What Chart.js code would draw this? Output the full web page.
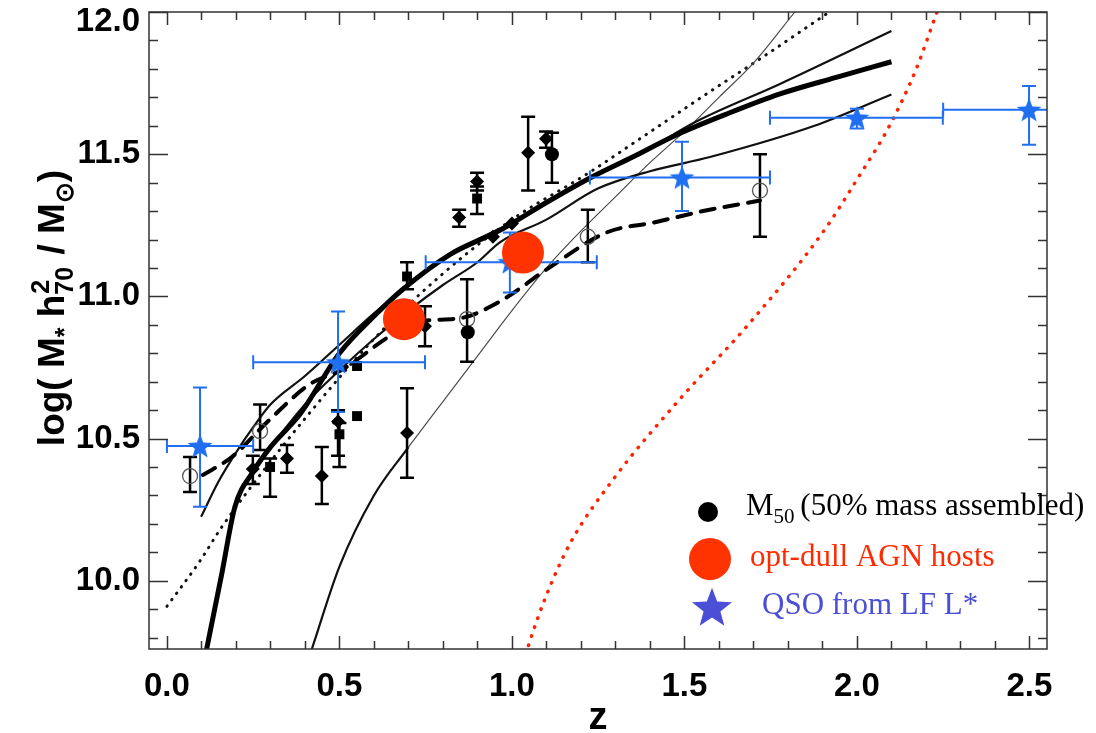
<!DOCTYPE html>
<html>
<head>
<meta charset="utf-8">
<script src="https://cdn.jsdelivr.net/npm/chart.js@4"></script>
<style>
  html, body { margin: 0; padding: 0; background: #fff; }
  #wrap { width: 1096px; height: 733px; }
</style>
</head>
<body>
<div id="wrap"><canvas id="chart" width="1096" height="733"></canvas></div>
<script>
// model tracks, [z, log M]
const thickTrack = [[0.105, 9.70], [0.116, 9.765], [0.159, 10.025], [0.197, 10.26], [0.249, 10.382], [0.30, 10.47],
  [0.386, 10.586], [0.50, 10.80], [0.60, 10.93], [0.684, 11.025], [0.82, 11.147], [0.965, 11.232], [1.10, 11.33],
  [1.229, 11.418], [1.35, 11.49], [1.472, 11.565], [1.62, 11.64], [1.777, 11.712], [1.94, 11.77], [2.10, 11.825]];
const upperTrack = [[0.099, 10.225], [0.15, 10.35], [0.203, 10.456], [0.25, 10.54], [0.30, 10.62], [0.40, 10.72],
  [0.50, 10.83], [0.60, 10.94], [0.70, 11.04], [0.80, 11.13], [0.90, 11.20], [1.0, 11.26], [1.1, 11.33], [1.2, 11.40],
  [1.371, 11.50], [1.533, 11.614], [1.777, 11.747], [2.10, 11.933]];
const lowerTrack = [[0.30, 10.47], [0.40, 10.62], [0.50, 10.74], [0.60, 10.85], [0.70, 10.95], [0.80, 11.04],
  [0.90, 11.12], [0.965, 11.19], [1.1, 11.27], [1.249, 11.379], [1.4, 11.44], [1.574, 11.49], [1.877, 11.60], [2.10, 11.71]];
const steepTrackLow = [[0.42, 9.76], [0.50, 10.05], [0.60, 10.30], [0.70, 10.47]];
const steepTrackHigh = [[0.70, 10.47], [0.80, 10.63], [0.90, 10.79], [1.0, 10.95], [1.1, 11.10], [1.2, 11.23],
  [1.3, 11.35], [1.4, 11.47], [1.5, 11.58], [1.6, 11.70], [1.7, 11.82], [1.82, 12.0]];
const dottedTrack = [[0.0, 9.91], [0.096, 10.07], [0.154, 10.18], [0.25, 10.34], [0.40, 10.57], [0.60, 10.85],
  [0.80, 11.08], [1.0, 11.27], [1.217, 11.43], [1.4, 11.578], [1.574, 11.72], [1.725, 11.84], [1.92, 12.0]];
const dashedTrack = [[0.104, 10.372], [0.188, 10.435], [0.299, 10.568], [0.414, 10.691], [0.51, 10.744], [0.646, 10.86],
  [0.733, 10.912], [0.849, 10.923], [0.965, 10.982], [1.101, 11.095], [1.275, 11.225], [1.412, 11.26], [1.554, 11.30],
  [1.719, 11.337]];
const redTrack = [[1.04, 9.74], [1.046, 9.765], [1.096, 9.937], [1.168, 10.13], [1.299, 10.365], [1.487, 10.639],
  [1.681, 10.895], [1.901, 11.225], [2.009, 11.428], [2.09, 11.59], [2.171, 11.797], [2.232, 12.0]];

// measurements, [z, log M, low, high]
const diamonds = [[0.249, 10.393, 10.34, 10.44], [0.348, 10.43, 10.38, 10.477], [0.449, 10.368, 10.27, 10.47],
  [0.496, 10.56, 10.44, 10.60], [0.696, 10.52, 10.362, 10.677], [0.748, 10.895, 10.825, 10.965],
  [0.847, 11.277, 11.245, 11.305], [0.899, 11.404, 11.372, 11.435], [0.945, 11.21, 11.21, 11.21],
  [1.0, 11.256, 11.256, 11.256], [1.047, 11.505, 11.372, 11.632], [1.099, 11.554, 11.523, 11.58]];
const squares = [[0.299, 10.40, 10.295, 10.43], [0.50, 10.515, 10.40, 10.555], [0.551, 10.579, 10.579, 10.579],
  [0.551, 10.755, 10.755, 10.755], [0.696, 11.07, 11.025, 11.12], [0.899, 11.344, 11.29, 11.386]];
const m50Points = [[0.872, 10.874, 10.874, 10.874], [1.116, 11.50, 11.40, 11.575]];
const openCircles = [[0.067, 10.368, 10.312, 10.435], [0.27, 10.526, 10.46, 10.62], [0.87, 10.92, 10.77, 11.06],
  [1.22, 11.21, 11.12, 11.305], [1.719, 11.372, 11.21, 11.50]];
const agnHosts = [[0.687, 10.92], [1.032, 11.154]];
// QSO from LF L*, [z, log M, zLow, zHigh, mLow, mHigh]
const qsoStars = [[0.096, 10.474, 0.0, 0.25, 10.26, 10.68], [0.496, 10.768, 0.25, 0.748, 10.593, 10.947],
  [0.994, 11.12, 0.75, 1.246, 11.014, 11.225], [1.493, 11.418, 1.226, 1.748, 11.30, 11.544],
  [2.0, 11.628, 1.748, 2.249, 11.59, 11.66], [2.499, 11.656, 2.25, 2.75, 11.533, 11.74]];

const xLabels = [0.0, 0.5, 1.0, 1.5, 2.0, 2.5];
const yLabels = [10.0, 10.5, 11.0, 11.5, 12.0];

const SANS = '"Liberation Sans", Arial, Helvetica, sans-serif';
const SERIF = '"Liberation Serif", "Times New Roman", serif';

function makeStar(r, color) {
  const c = document.createElement('canvas');
  c.width = c.height = Math.ceil(r * 2 + 2);
  const g = c.getContext('2d');
  g.translate(c.width / 2, c.height / 2 + r * 0.08);
  g.beginPath();
  for (let i = 0; i < 10; i++) {
    const rr = i % 2 === 0 ? r : r * 0.42;
    const a = -Math.PI / 2 + i * Math.PI / 5;
    g.lineTo(rr * Math.cos(a), rr * Math.sin(a));
  }
  g.closePath();
  g.fillStyle = color;
  g.fill();
  return c;
}

const toXY = arr => arr.map(p => ({ x: p[0], y: p[1] }));
const toBars = arr => arr.map(p => ({ x: p[0], y: p[1], ylo: p[2], yhi: p[3] }));

function track(data, color, width, dash, order) {
  return {
    data: toXY(data), showLine: true, borderColor: color, borderWidth: width,
    borderDash: dash || [], borderCapStyle: dash ? 'round' : 'butt', pointRadius: 0,
    cubicInterpolationMode: 'monotone', order: order
  };
}

const errorBarPlugin = {
  id: 'errorBars',
  beforeDatasetDraw(chart, args) {
    const ds = chart.data.datasets[args.index];
    if (!ds.errorBars) return;
    const xs = chart.scales.x, ys = chart.scales.y, ctx = chart.ctx, a = chart.chartArea;
    ctx.save();
    ctx.beginPath();
    ctx.rect(a.left, a.top, a.right - a.left, a.bottom - a.top);
    ctx.clip();
    ctx.strokeStyle = ds.barColor;
    ctx.lineWidth = ds.barWidth;
    const cap = 7;
    ds.errorBars.forEach(e => {
      const px = xs.getPixelForValue(e.x), py = ys.getPixelForValue(e.y);
      ctx.beginPath();
      if (e.ylo !== e.yhi) {
        const y1 = ys.getPixelForValue(e.ylo), y2 = ys.getPixelForValue(e.yhi);
        ctx.moveTo(px, y1); ctx.lineTo(px, y2);
        ctx.moveTo(px - cap, y1); ctx.lineTo(px + cap, y1);
        ctx.moveTo(px - cap, y2); ctx.lineTo(px + cap, y2);
      }
      if (e.xlo !== undefined) {
        const x1 = xs.getPixelForValue(e.xlo), x2 = xs.getPixelForValue(e.xhi);
        ctx.moveTo(x1, py); ctx.lineTo(x2, py);
        ctx.moveTo(x1, py - cap); ctx.lineTo(x1, py + cap);
        ctx.moveTo(x2, py - cap); ctx.lineTo(x2, py + cap);
      }
      ctx.stroke();
    });
    ctx.restore();
  }
};

const frameStar = makeStar(21, '#4a4fd6');

const decorPlugin = {
  id: 'decor',
  afterDraw(chart) {
    const ctx = chart.ctx, a = chart.chartArea, xs = chart.scales.x, ys = chart.scales.y;
    ctx.save();
    // frame and inward ticks
    ctx.strokeStyle = '#333';
    ctx.lineWidth = 1.5;
    ctx.strokeRect(a.left, a.top, a.right - a.left, a.bottom - a.top);
    ctx.beginPath();
    for (let i = 0; i <= 25; i++) {
      const px = Math.round(xs.getPixelForValue(i / 10)) + 0.5;
      const len = i % 5 === 0 ? 13 : 8;
      ctx.moveTo(px, a.bottom); ctx.lineTo(px, a.bottom - len);
      ctx.moveTo(px, a.top); ctx.lineTo(px, a.top + len);
    }
    for (let i = 98; i <= 120; i++) {
      const py = Math.round(ys.getPixelForValue(i / 10)) + 0.5;
      const len = i % 5 === 0 ? 19 : 9;
      ctx.moveTo(a.left, py); ctx.lineTo(a.left + len, py);
      ctx.moveTo(a.right, py); ctx.lineTo(a.right - len, py);
    }
    ctx.stroke();

    // x title
    ctx.fillStyle = '#000';
    ctx.font = 'bold 38px ' + SANS;
    ctx.textAlign = 'center';
    ctx.textBaseline = 'alphabetic';
    ctx.fillText('z', (a.left + a.right) / 2, 729);

    // y title
    const big = 'bold 37px ' + SANS, small = 'bold 25px ' + SANS;
    const parts = [
      { t: 'log( M', f: big, dy: 0 },
      { t: '*', f: small, dy: 9 },
      { t: ' h', f: big, dy: 0 },
      { stack: ['2', '70'] },
      { t: ' / M', f: big, dy: 0 },
      { t: '\u2299', f: small, dy: 9 },
      { t: ')', f: big, dy: 0 }
    ];
    let total = 0;
    parts.forEach(p => {
      if (p.stack) { ctx.font = small; p.w = Math.max(ctx.measureText(p.stack[0]).width, ctx.measureText(p.stack[1]).width) + 2; }
      else { ctx.font = p.f; p.w = ctx.measureText(p.t).width; }
      total += p.w;
    });
    ctx.translate(64, 308);
    ctx.rotate(-Math.PI / 2);
    ctx.textAlign = 'left';
    let cx = -total / 2;
    parts.forEach(p => {
      if (p.stack) {
        ctx.font = small;
        ctx.fillText(p.stack[0], cx + 1, -15);
        ctx.fillText(p.stack[1], cx, 9);
      } else {
        ctx.font = p.f;
        ctx.fillText(p.t, cx, p.dy);
      }
      cx += p.w;
    });
    ctx.setTransform(1, 0, 0, 1, 0, 0);

    // legend
    ctx.fillStyle = '#000';
    ctx.beginPath(); ctx.arc(708, 512, 10, 0, Math.PI * 2); ctx.fill();
    ctx.font = '31px ' + SERIF;
    ctx.fillText('M', 746, 515);
    let w = ctx.measureText('M').width;
    ctx.font = '21px ' + SERIF;
    ctx.fillText('50', 746 + w, 523);
    w += ctx.measureText('50').width;
    ctx.font = '31px ' + SERIF;
    ctx.fillText(' (50% mass assembled)', 746 + w - 2, 515);

    ctx.fillStyle = '#ff3300';
    ctx.beginPath(); ctx.arc(710, 559, 21, 0, Math.PI * 2); ctx.fill();
    ctx.fillStyle = '#ff2a00';
    ctx.fillText('opt-dull AGN hosts', 750, 566);

    ctx.drawImage(frameStar, 712 - frameStar.width / 2, 607 - frameStar.height / 2);
    ctx.fillStyle = '#4a4fd6';
    ctx.fillText('QSO from LF L*', 762, 614);
    ctx.restore();
  }
};

const datasets = [
  { data: toXY(agnHosts), pointRadius: 21, pointBackgroundColor: '#ff3300', pointBorderWidth: 0, order: 0 },
  {
    data: toXY(qsoStars), pointStyle: makeStar(13, '#1f6ff0'), pointRadius: 13, order: 1,
    errorBars: qsoStars.map(p => ({ x: p[0], y: p[1], xlo: p[2], xhi: p[3], ylo: p[4], yhi: p[5] })),
    barColor: '#1f6ff0', barWidth: 2
  },
  {
    data: toXY(diamonds), pointStyle: 'rectRot', pointRadius: 7, pointBackgroundColor: '#000', pointBorderWidth: 0,
    order: 2, errorBars: toBars(diamonds), barColor: '#000', barWidth: 2.5
  },
  {
    data: toXY(squares), pointStyle: 'rect', pointRadius: 7, pointBackgroundColor: '#000', pointBorderWidth: 0,
    order: 2, errorBars: toBars(squares), barColor: '#000', barWidth: 2.5
  },
  {
    data: toXY(m50Points), pointRadius: 7, pointBackgroundColor: '#000', pointBorderWidth: 0,
    order: 2, errorBars: toBars(m50Points), barColor: '#000', barWidth: 2.5
  },
  {
    data: toXY(openCircles), pointRadius: 7.5, pointBackgroundColor: 'rgba(255,255,255,0)', pointBorderColor: '#555',
    pointBorderWidth: 1.3, order: 2, errorBars: toBars(openCircles), barColor: '#000', barWidth: 2.5
  },
  track(dashedTrack, '#000', 4, [14, 10], 3),
  track(thickTrack, '#000', 5, null, 4),
  track(upperTrack, '#111', 2.2, null, 5),
  track(lowerTrack, '#111', 2.2, null, 5),
  track(steepTrackLow, '#111', 2.2, null, 6),
  track(steepTrackHigh, '#444', 1.1, null, 6),
  track(dottedTrack, '#111', 3, [0.5, 7.5], 6),
  track(redTrack, '#ff2200', 3.5, [0.5, 9], 6)
];

new Chart(document.getElementById('chart'), {
  type: 'scatter',
  data: { datasets },
  options: {
    responsive: false,
    animation: false,
    devicePixelRatio: 1,
    layout: { autoPadding: false, padding: { left: 0, top: 12, right: 49, bottom: 0 } },
    plugins: { legend: { display: false }, tooltip: { enabled: false } },
    scales: {
      x: {
        type: 'linear', min: -0.052, max: 2.551,
        grid: { display: false, drawTicks: false }, border: { display: false },
        afterBuildTicks: s => { s.ticks = xLabels.map(v => ({ value: v })); },
        afterFit: s => { s.height = 84; s.paddingLeft = 0; s.paddingRight = 0; },
        ticks: {
          autoSkip: false, maxRotation: 0, padding: 18, color: '#000',
          font: { family: SANS, weight: 'bold', size: 33 },
          callback: v => Number(v).toFixed(1)
        }
      },
      y: {
        type: 'linear', min: 9.76, max: 12.0,
        grid: { display: false, drawTicks: false }, border: { display: false },
        afterBuildTicks: s => { s.ticks = yLabels.map(v => ({ value: v })); },
        afterFit: s => { s.width = 149; s.paddingTop = 0; s.paddingBottom = 0; },
        ticks: {
          autoSkip: false, padding: 9, color: '#000',
          font: { family: SANS, weight: 'bold', size: 33, lineHeight: 0.6 },
          // the top label sits just inside the frame, as in the original
          callback: v => (v === 12 ? ['', '12.0'] : Number(v).toFixed(1))
        }
      }
    }
  },
  plugins: [errorBarPlugin, decorPlugin]
});
</script>
</body>
</html>
